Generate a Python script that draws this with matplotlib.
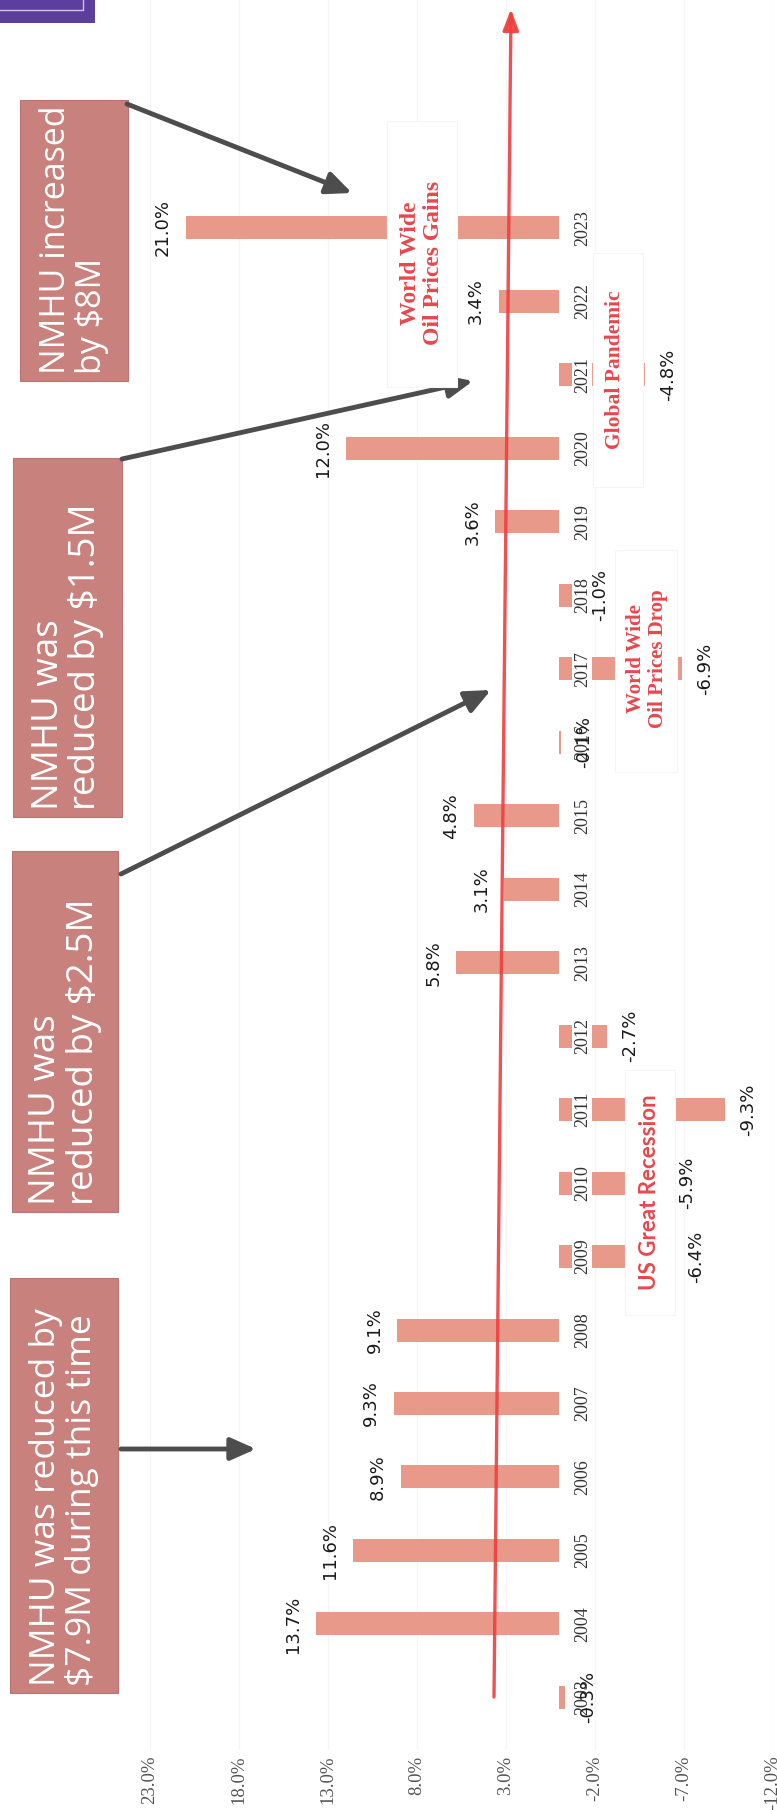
import matplotlib
matplotlib.use("Agg")
import matplotlib.pyplot as plt
from matplotlib.patches import Rectangle, FancyArrowPatch
from matplotlib.lines import Line2D
from matplotlib.transforms import Affine2D

# ---------------- data ----------------
years = [2003, 2004, 2005, 2006, 2007, 2008, 2009, 2010, 2011, 2012, 2013,
         2014, 2015, 2016, 2017, 2018, 2019, 2020, 2021, 2022, 2023]
values = [-0.3, 13.7, 11.6, 8.9, 9.3, 9.1, -6.4, -5.9, -9.3, -2.7, 5.8,
          3.1, 4.8, -0.1, -6.9, -1.0, 3.6, 12.0, -4.8, 3.4, 21.0]
tick_values = [23, 18, 13, 8, 3, -2, -7, -12]
tick_labels = ["23.0%", "18.0%", "13.0%", "8.0%", "3.0%", "-2.0%", "-7.0%", "-12.0%"]

callout_texts = ["NMHU increased\nby $8M",
                 "NMHU was\nreduced by $1.5M",
                 "NMHU was\nreduced by $2.5M",
                 "NMHU was reduced by\n$7.9M during this time"]
event_texts = ["World Wide\nOil Prices Gains", "Global Pandemic",
               "World Wide\nOil Prices Drop", "US Great Recession"]

# ---------------- style ----------------
W, H = 777, 1810
BAR = "#E8998A"
BOX = "#C8817C"
RED = "#E8474C"
ARROW = "#4D4D4D"

fig = plt.figure(figsize=(W / 100, H / 100), dpi=100)
fig.patch.set_facecolor("white")
pix = Affine2D().scale(1 / W, -1 / H).translate(0, 1) + fig.transFigure

ax = fig.add_axes([150 / W, 60 / H, 623 / W, 1750 / H])
ax.set_facecolor("none")
ax.barh(years, values, height=0.313, color=BAR, zorder=2)
ax.set_xlim(23, -12)
ax.set_ylim(2002.284, 2026.103)
ax.set_xticks(tick_values)
ax.set_xticklabels(tick_labels, rotation=90, fontfamily="Liberation Serif",
                   fontsize=13.5, color="#555555")
ax.tick_params(axis="x", length=0, pad=4)
ax.set_yticks([])
for s in ax.spines.values():
    s.set_visible(False)
ax.grid(axis="x", color="#F6F6F6", lw=1, zorder=0)

# value labels
for y, v in zip(years, values):
    off = -16.5 if v >= 0 else 16.5
    ax.annotate(f"{v:.1f}%", xy=(v, y), xytext=(off, 0), textcoords="offset points",
                rotation=90, ha="center", va="center", fontsize=13,
                family="DejaVu Sans", color="#1A1A1A", zorder=7)

# year labels with white mask
for y in years:
    ax.annotate(str(y), xy=(0, y), xytext=(16.5, 0), textcoords="offset points",
                rotation=90, ha="center", va="center", fontsize=13,
                family="Liberation Serif", color="#333333", zorder=5,
                bbox=dict(boxstyle="square,pad=0.08", fc="white", ec="none"))

# ---------------- top-left purple fragment ----------------
fig.add_artist(Rectangle((0, 0), 95, 23, transform=pix, fc="#5B3E9E", ec="none"))
fig.add_artist(Line2D([0, 83, 83], [10, 10, 0], transform=pix, color="#CFC6E6", lw=1))

# ---------------- callout boxes ----------------
boxes = [(20, 128, 100, 381), (13, 122, 458, 817), (12, 118, 851, 1212), (10, 118, 1278, 1693)]
sizes = [24.5, 26.5, 26.5, 25.5]
for (x0, x1, y0, y1), txt, fs in zip(boxes, callout_texts, sizes):
    fig.add_artist(Rectangle((x0, y0), x1 - x0, y1 - y0, transform=pix,
                             fc=BOX, ec="#B87470", lw=0.8, zorder=3))
    fig.text((x0 + x1) / 2, y1 - 7, txt, transform=pix, rotation=90,
             ha="center", va="bottom", multialignment="left",
             fontsize=fs, family="Open Sans", color="white", zorder=4,
             linespacing=1.05)

# gray arrows
for (xa, ya), (xb, yb) in [((127, 104), (352, 193)), ((122, 459), (473, 381)),
                           ((121, 874), (491, 690)), ((121, 1449), (256, 1449))]:
    fig.add_artist(FancyArrowPatch((xa, ya), (xb, yb), transform=pix,
                                   arrowstyle="-|>,head_length=0.9,head_width=0.4",
                                   mutation_scale=17, color=ARROW, lw=3.5,
                                   shrinkA=0, shrinkB=0, zorder=3))

# red trend arrow
fig.add_artist(FancyArrowPatch((494, 1697), (511, 9), transform=pix,
                               arrowstyle="-|>,head_length=0.8,head_width=0.3",
                               mutation_scale=16, color="#EE3F3F", lw=2.4,
                               alpha=0.9, shrinkA=0, shrinkB=0, zorder=2))

# ---------------- event boxes ----------------
ev_boxes = [(387, 457, 121, 387), (593, 643, 253, 487), (615, 677, 550, 772), (625, 675, 1070, 1315)]
ev_centers = [(422, 263), (615, 370), (647, 659), (650, 1192)]
ev_fonts = [("Liberation Serif", 17), ("Liberation Serif", 15.5),
            ("Liberation Serif", 15), ("Lato", 16)]
for (x0, x1, y0, y1), (cx, cy), (fam, fs), txt in zip(ev_boxes, ev_centers, ev_fonts, event_texts):
    fig.add_artist(Rectangle((x0, y0), x1 - x0, y1 - y0, transform=pix,
                             fc="white", ec="#F5F5F5", lw=0.8, zorder=3))
    fig.text(cx, cy, txt, transform=pix, rotation=90, ha="center", va="center",
             multialignment="center", fontsize=fs, family=fam,
             fontweight="bold", color=RED, zorder=4, linespacing=1.15)

fig.savefig("out.png", dpi=100, facecolor="white")
